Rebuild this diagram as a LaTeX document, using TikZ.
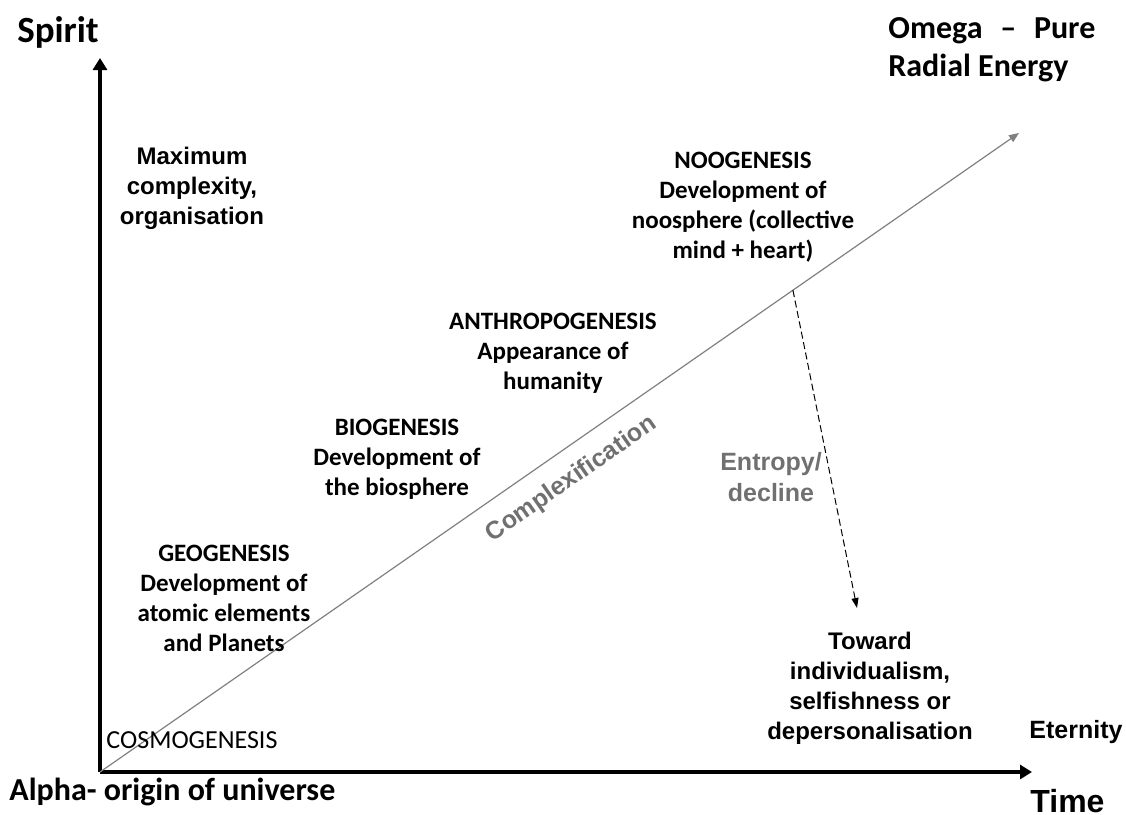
\documentclass[tikz,border=0pt]{standalone}
\usepackage{fontspec}
\setmainfont{Carlito}
\newfontfamily\arialfont{Liberation Sans}
\usetikzlibrary{arrows.meta}
\definecolor{linegray}{RGB}{128,128,128}
\definecolor{textgray}{RGB}{112,112,112}

\begin{document}
\begin{tikzpicture}[x=0.5pt,y=-0.5pt,
	axis/.style={line width=1.7pt,-{Triangle[length=6pt,width=7pt]}},
	growth/.style={draw=linegray,line width=0.6pt,-{Triangle[length=5pt,width=4pt]}},
	decline/.style={line width=0.5pt,dash pattern=on 3.5pt off 1.8pt,-{Triangle[length=5pt,width=3.5pt]}},
	stage/.style={align=center,font=\bfseries\fontsize{12.5}{15}\selectfont},
	note/.style={align=center,font=\arialfont\bfseries\fontsize{12}{15}\selectfont},
	grey note/.style={note,text=textgray,font=\arialfont\bfseries\fontsize{12.5}{15.5}\selectfont}]
		
		\useasboundingbox (0,0) rectangle (1126,815);
		
		% Axes
		\coordinate (alpha) at (100,772);
		\coordinate (ytip) at (100,58);
		\coordinate (xtip) at (1032,772);
		\draw[axis] (alpha) -- (ytip);
		\draw[axis] (alpha) -- (xtip);
		\node[anchor=base,font=\bfseries\fontsize{18.5}{22}\selectfont] (spirit) at (58,42) {Spirit};
		\node[anchor=base west,inner sep=0,font=\bfseries\fontsize{16}{19}\selectfont] (origin) at (9,800) {Alpha- origin of universe};
		\node[anchor=base west,inner sep=0,font=\arialfont\bfseries\fontsize{16}{18}\selectfont] (time) at (1030,812) {Time};
		\node[anchor=base west,inner sep=0,font=\arialfont\bfseries\fontsize{12.5}{15}\selectfont] (eternity) at (1029,738) {Eternity};
		
		% Complexification + Omega
		\coordinate (omegatip) at (1019,133);
		\draw[growth] (alpha) -- (omegatip) node[pos=0.495,sloped,below=5pt,grey note] (cplx) {Complexification};
		\path (alpha) -- (omegatip) coordinate[pos=0.754] (split);
		\node[anchor=north west,inner sep=0,align=left,font=\bfseries\fontsize{16}{19}\selectfont] (omega) at (888,17) {\makebox[103.5pt][l]{Omega\hfill--\hfill Pure}\\Radial Energy};
		
		% Entropy arrow
		\coordinate (selfish) at (857,608);
		\draw[decline] (split) -- (selfish);
		\node[grey note] (entropy) at (771,477) {Entropy/\\decline};
		\node[note] (toward) at (870,688) {Toward\\individualism,\\selfishness or\\depersonalisation};
		\node[note] (maxcplx) at (192,188) {Maximum\\complexity,\\organisation};
		
		% Stages
		\node[font=\fontsize{13}{15}\selectfont] (cosmo) at (192,740) {COSMOGENESIS};
		\node[stage] (geo) at (224,598) {GEOGENESIS\\Development of\\atomic elements\\and Planets};
		\node[stage] (bio) at (397,459) {BIOGENESIS\\Development of\\the biosphere};
		\node[stage] (anthropo) at (553,353) {ANTHROPOGENESIS\\Appearance of\\humanity};
		\node[stage] (noo) at (743,207) {NOOGENESIS\\Development of\\noosphere (collective\\mind + heart)};
		
\end{tikzpicture}
\end{document}
